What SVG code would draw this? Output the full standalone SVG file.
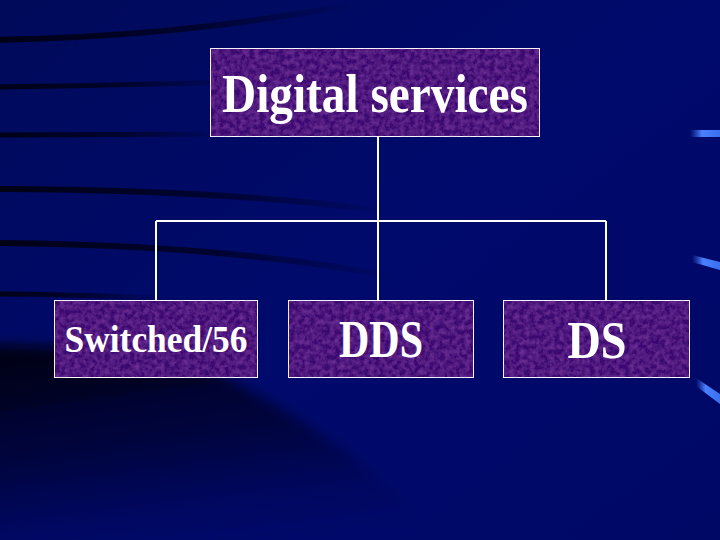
<svg xmlns="http://www.w3.org/2000/svg" width="720" height="540" viewBox="0 0 720 540">
<defs>
  <linearGradient id="bg" x1="0" y1="0" x2="1" y2="1">
    <stop offset="0" stop-color="#000a5a"/>
    <stop offset="0.5" stop-color="#000a6c"/>
    <stop offset="1" stop-color="#000866"/>
  </linearGradient>
  <linearGradient id="streak" x1="0" y1="0" x2="1" y2="0">
    <stop offset="0" stop-color="#000010" stop-opacity="0.95"/>
    <stop offset="0.55" stop-color="#000018" stop-opacity="0.7"/>
    <stop offset="1" stop-color="#000020" stop-opacity="0"/>
  </linearGradient>
  <linearGradient id="hl" x1="0" y1="0" x2="1" y2="0">
    <stop offset="0" stop-color="#3a6cf0" stop-opacity="0"/>
    <stop offset="0.4" stop-color="#4a80ff"/>
    <stop offset="1" stop-color="#3a70f0"/>
  </linearGradient>
  <linearGradient id="dark" x1="0" y1="0" x2="0.3" y2="1">
    <stop offset="0" stop-color="#000008" stop-opacity="0.95"/>
    <stop offset="0.5" stop-color="#000020" stop-opacity="0.6"/>
    <stop offset="1" stop-color="#000040" stop-opacity="0"/>
  </linearGradient>
  <filter id="soft" x="-10%" y="-10%" width="120%" height="120%">
    <feGaussianBlur stdDeviation="6"/>
  </filter>
  <filter id="tex" x="0" y="0" width="100%" height="100%">
    <feTurbulence type="fractalNoise" baseFrequency="0.2" numOctaves="3" seed="7" result="n"/>
    <feColorMatrix in="n" type="matrix" values="0 0 0 0 0.36  0 0 0 0 0.08  0 0 0 0 0.58  0 0 0 0.6 -0.18" result="c"/>
    <feComposite in="c" in2="SourceGraphic" operator="in" result="t"/>
    <feMerge><feMergeNode in="SourceGraphic"/><feMergeNode in="t"/></feMerge>
  </filter>
  <style>
    .box { fill: #3a0b70; stroke: #ffffff; stroke-width: 2; filter: url(#tex); }
    .lbl { font-family: "Liberation Serif", "Times New Roman", serif; font-weight: bold; fill: #ffffff; text-anchor: middle; }
    .conn { stroke: #ffffff; stroke-width: 2; fill: none; }
    .st { fill: none; stroke: url(#streak); stroke-linecap: round; }
    .hl { fill: url(#hl); }
  </style>
</defs>
<rect width="720" height="540" fill="url(#bg)"/>
<g id="background-streaks">
  <path d="M-20 345 C 120 345, 200 360, 240 385 C 320 430, 400 480, 450 560 L -20 560 Z" fill="url(#dark)" filter="url(#soft)"/>
  <path class="st" stroke-width="6" d="M-10 40 C 100 38, 220 30, 360 3"/>
  <path class="st" stroke-width="5" d="M-10 87 C 80 86, 160 84, 240 82"/>
  <path class="st" stroke-width="5" d="M-10 135 C 80 134, 160 134, 230 134"/>
  <path class="st" stroke-width="6" d="M-10 189 C 120 189, 260 194, 390 212"/>
  <path class="st" stroke-width="6" d="M-10 243 C 120 244, 270 252, 400 278"/>
  <path class="st" stroke-width="5" d="M-10 294 C 60 294, 110 296, 160 298"/>
  <polygon class="hl" points="690,130 720,130 720,137 690,137"/>
  <polygon class="hl" points="692,255 720,262 720,270 692,262"/>
  <polygon class="hl" points="696,378 720,394 720,404 696,386"/>
</g>
<g id="connectors">
  <path class="conn" d="M378 137 V300"/>
  <path class="conn" d="M156 221 H606"/>
  <path class="conn" d="M156 221 V300"/>
  <path class="conn" d="M606 221 V300"/>
</g>
<g id="node-digital-services">
  <rect class="box" x="210" y="48" width="330" height="89"/>
  <text class="lbl" x="375" y="112" font-size="54" textLength="306" lengthAdjust="spacingAndGlyphs">Digital services</text>
</g>
<g id="node-switched56">
  <rect class="box" x="54" y="300" width="204" height="78"/>
  <text class="lbl" x="156" y="352" font-size="37" textLength="183" lengthAdjust="spacingAndGlyphs">Switched/56</text>
</g>
<g id="node-dds">
  <rect class="box" x="288" y="300" width="186" height="78"/>
  <text class="lbl" x="381" y="357" font-size="52" textLength="84" lengthAdjust="spacingAndGlyphs">DDS</text>
</g>
<g id="node-ds">
  <rect class="box" x="503" y="300" width="187" height="78"/>
  <text class="lbl" x="597" y="358" font-size="52" textLength="59" lengthAdjust="spacingAndGlyphs">DS</text>
</g>
</svg>
